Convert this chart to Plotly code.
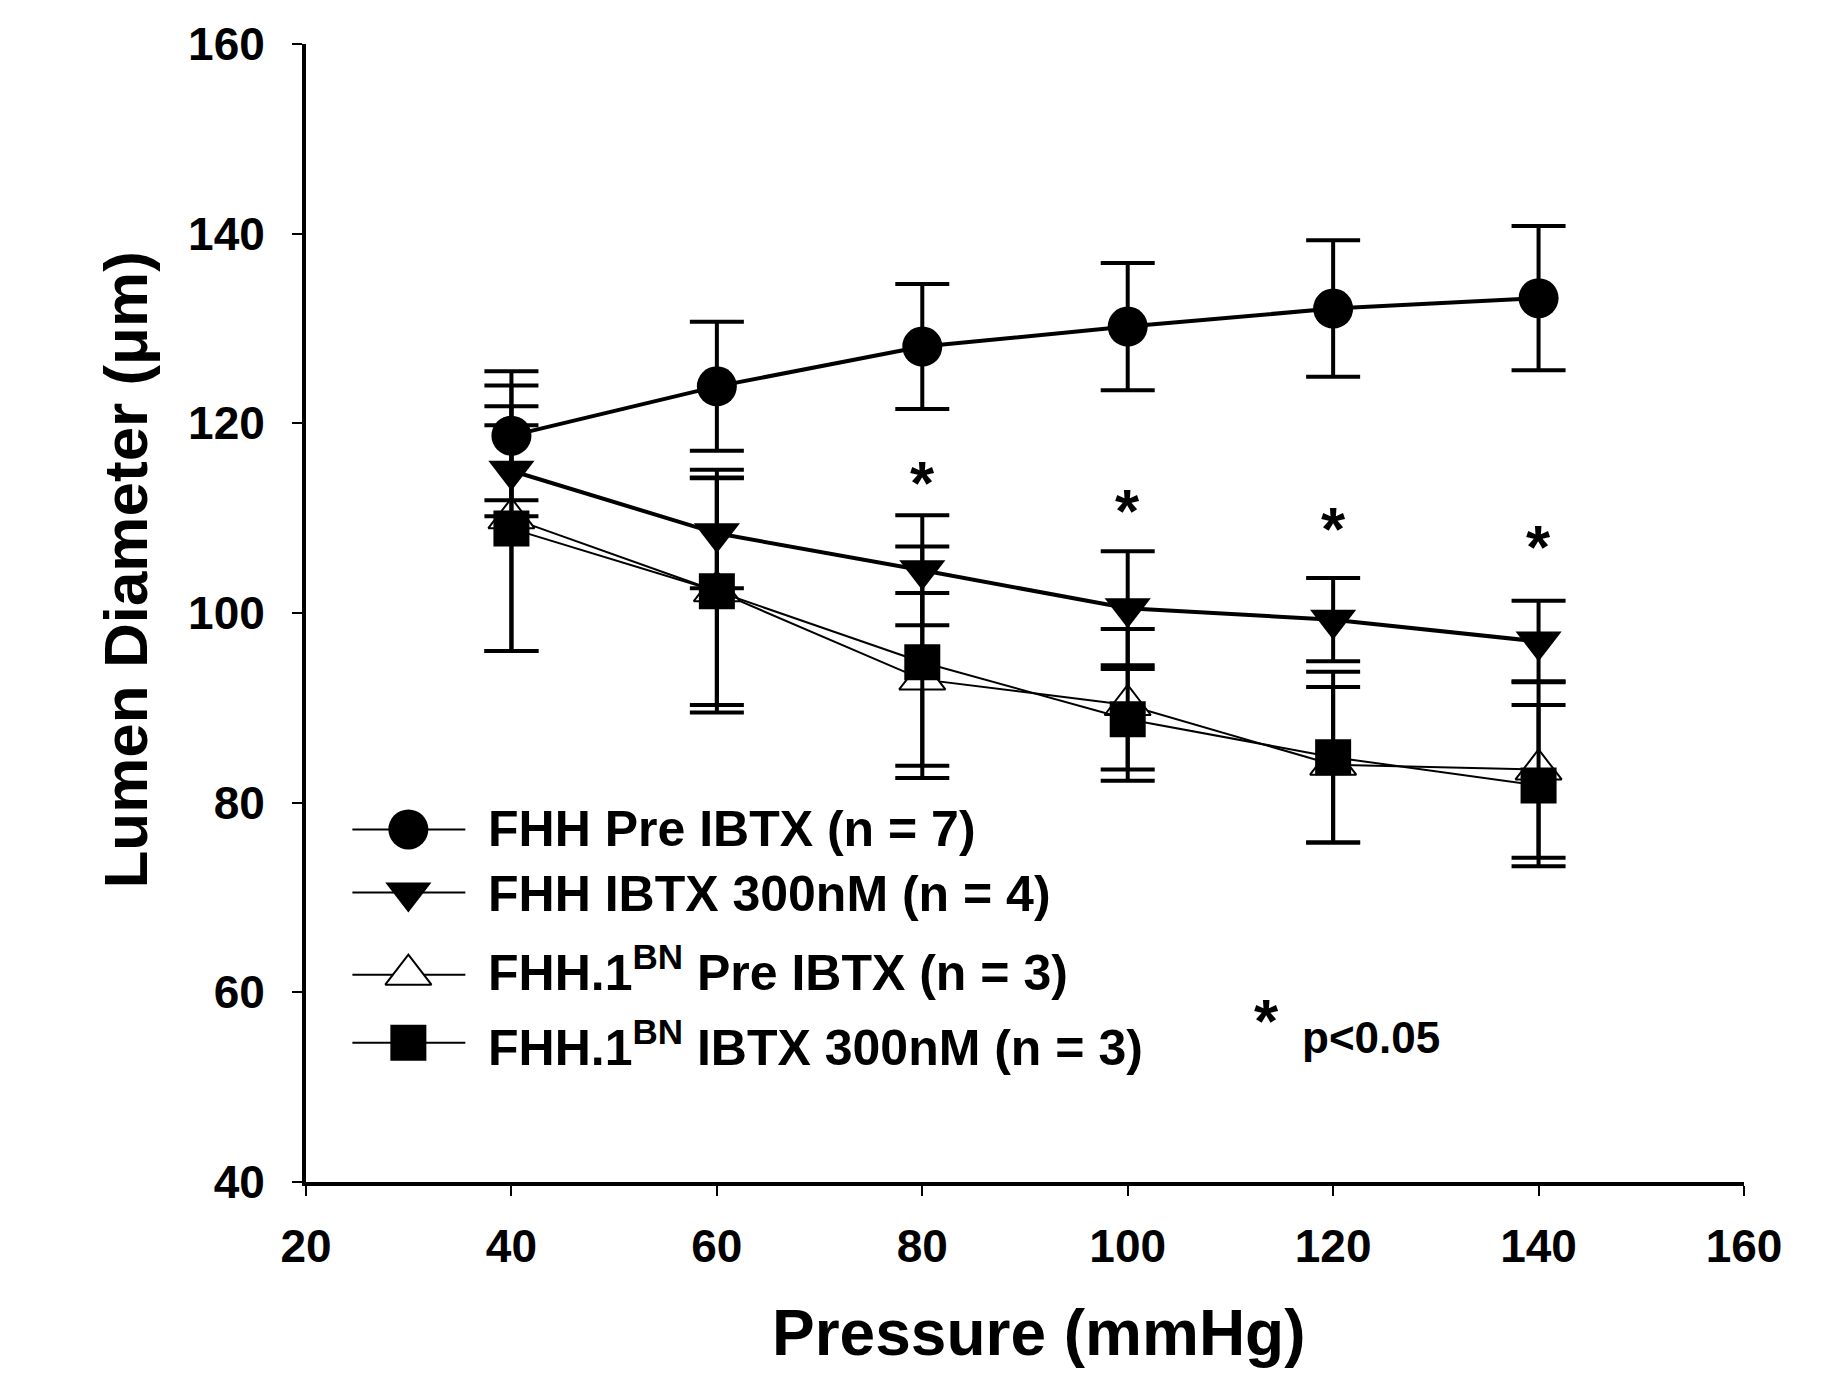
import plotly.graph_objects as go

# ---------------- data ----------------
pressure = [40, 60, 80, 100, 120, 140]

fhh_pre_mean = [118.7, 123.9, 128.1, 130.2, 132.1, 133.2]
fhh_pre_err = [6.8, 6.8, 6.6, 6.7, 7.2, 7.6]

fhh_ibtx_mean = [115.0, 108.4, 104.5, 100.5, 99.3, 97.0]
fhh_ibtx_err = [4.8, 5.8, 5.8, 6.0, 4.4, 4.3]

bn_pre_mean = [110.0, 102.3, 93.0, 90.3, 84.0, 83.5]
bn_pre_err = [14.0, 12.8, 9.1, 8.0, 8.2, 9.3]

bn_ibtx_mean = [108.9, 102.3, 94.8, 88.8, 84.8, 81.8]
bn_ibtx_err = [12.9, 12.0, 12.2, 5.3, 9.0, 8.5]

significant = [False, False, True, True, True, True]
sig_star_y = [None, None, 114.4, 111.4, 109.5, 107.6]

x_ticks = [20, 40, 60, 80, 100, 120, 140, 160]
y_ticks = [40, 60, 80, 100, 120, 140, 160]

legend_labels = [
    "FHH Pre IBTX (n = 7)",
    "FHH IBTX 300nM (n = 4)",
    "FHH.1<sup>BN</sup> Pre IBTX (n = 3)",
    "FHH.1<sup>BN</sup> IBTX 300nM (n = 3)",
]

# ---------------- styles ----------------
W, H = 1831, 1383
ML, MR, MT, MB = 298, 95, 36, 209

# reference plot area in pixels (for placing key / titles as fractions)
RX0, RX1, RY0, RY1 = 303.6, 1742.2, 46.7, 1183.0


def fx(px):
    return (px - RX0) / (RX1 - RX0)


def fy(py):
    return (RY1 - py) / (RY1 - RY0)


BOLD = "Liberation Sans"
NARROW = "Liberation Sans Narrow, Arial Narrow, Liberation Sans"

styles = [
    dict(symbol="triangle-up", size=40, fill="white", lw=2, line_w=2),   # BN pre
    dict(symbol="square", size=36, fill="black", lw=0, line_w=2),        # BN ibtx
    dict(symbol="triangle-down", size=40, fill="black", lw=0, line_w=4), # FHH ibtx
    dict(symbol="circle", size=40, fill="black", lw=0, line_w=4),        # FHH pre
]
series = [
    (bn_pre_mean, bn_pre_err),
    (bn_ibtx_mean, bn_ibtx_err),
    (fhh_ibtx_mean, fhh_ibtx_err),
    (fhh_pre_mean, fhh_pre_err),
]

fig = go.Figure()
for (m, e), st in zip(series, styles):
    fig.add_trace(go.Scatter(
        x=pressure, y=m, mode="lines+markers",
        line=dict(color="black", width=st["line_w"]),
        marker=dict(symbol=st["symbol"], size=st["size"], color=st["fill"],
                    line=dict(color="black", width=st["lw"])),
        error_y=dict(type="data", array=e, symmetric=True, color="black",
                     thickness=4, width=27),
        showlegend=False, cliponaxis=False,
    ))

# ---------------- custom key (overlay axes in plot-area fractions) ----------------
legend_rows_px = [831, 894, 976, 1044]
legend_style_order = [3, 2, 0, 1]
for row_py, si in zip(legend_rows_px, legend_style_order):
    st = styles[si]
    fig.add_trace(go.Scatter(
        x=[fx(350), fx(463)], y=[fy(row_py)] * 2, mode="lines",
        line=dict(color="black", width=2), xaxis="x2", yaxis="y2",
        showlegend=False, hoverinfo="skip"))
    fig.add_trace(go.Scatter(
        x=[fx(406)], y=[fy(row_py)], mode="markers",
        marker=dict(symbol=st["symbol"], size=st["size"], color=st["fill"],
                    line=dict(color="black", width=st["lw"])),
        xaxis="x2", yaxis="y2", showlegend=False, hoverinfo="skip"))

annotations = []
text_rows_px = [831, 895, 970, 1045]
for lab, py in zip(legend_labels, text_rows_px):
    annotations.append(dict(
        text=lab, x=fx(484), y=fy(py), xref="paper", yref="paper",
        xanchor="left", yanchor="middle", showarrow=False,
        font=dict(family=NARROW, size=50, color="black", weight="bold")))

# significance asterisks
for xv, sy, s in zip(pressure, sig_star_y, significant):
    if s:
        annotations.append(dict(
            text="*", x=xv, y=sy, xref="x", yref="y",
            xanchor="center", yanchor="middle", showarrow=False, yshift=-6,
            font=dict(family=BOLD, size=62, color="black", weight="bold")))

annotations.append(dict(text="*", x=fx(1265), y=fy(1016), xref="paper", yref="paper",
                        xanchor="center", yanchor="middle", showarrow=False,
                        yshift=-6,
                        font=dict(family=BOLD, size=62, color="black", weight="bold")))
annotations.append(dict(text="p<0.05", x=fx(1298), y=fy(1039), xref="paper", yref="paper",
                        xanchor="left", yanchor="middle", showarrow=False,
                        font=dict(family=BOLD, size=44, color="black", weight="bold")))

# axis titles
annotations.append(dict(text="Pressure (mmHg)", x=fx(1037), y=fy(1334), xref="paper", yref="paper",
                        xanchor="center", yanchor="middle", showarrow=False,
                        font=dict(family=BOLD, size=64, color="black", weight="bold")))
annotations.append(dict(text="Lumen Diameter (\u03bcm)", x=fx(123), y=fy(572), xref="paper", yref="paper",
                        xanchor="center", yanchor="middle", showarrow=False, textangle=-90,
                        font=dict(family=BOLD, size=62, color="black", weight="bold")))

axis_common = dict(showgrid=False, zeroline=False, showline=True, linecolor="black",
                   linewidth=4, ticks="outside", ticklen=10, tickwidth=2, tickcolor="black",
                   tickfont=dict(family=BOLD, size=46, color="black", weight="bold"),
                   automargin=False)

fig.update_layout(
    width=W, height=H,
    margin=dict(l=ML, r=MR, t=MT, b=MB),
    paper_bgcolor="white", plot_bgcolor="white",
    xaxis=dict(range=[20, 160], tickvals=x_ticks, ticklabelstandoff=11, **axis_common),
    yaxis=dict(range=[40, 160], tickvals=y_ticks, ticklabelstandoff=18, **axis_common),
    xaxis2=dict(overlaying="x", range=[0, 1], visible=False, fixedrange=True),
    yaxis2=dict(overlaying="y", range=[0, 1], visible=False, fixedrange=True),
    annotations=annotations,
    showlegend=False,
)

fig.write_html("out.html")
